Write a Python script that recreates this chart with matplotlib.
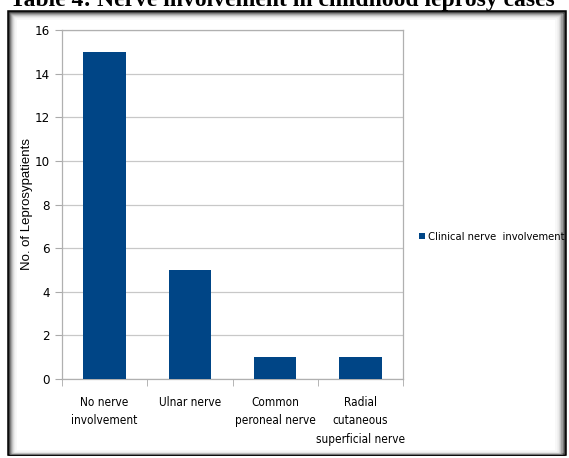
import matplotlib
matplotlib.use("Agg")
import matplotlib.pyplot as plt
from matplotlib.patches import Rectangle
from matplotlib.font_manager import FontProperties

categories = ["No nerve\ninvolvement", "Ulnar nerve", "Common\nperoneal nerve", "Radial\ncutaneous\nsuperficial nerve"]
values = [15, 5, 1, 1]
series_name = "Clinical nerve  involvement"
y_label = "No. of Leprosypatients"
title = "Table 4: Nerve involvement in childhood leprosy cases"
yticks = [0, 2, 4, 6, 8, 10, 12, 14, 16]

def cond(size):
    return FontProperties(family="DejaVu Sans", stretch="condensed", size=size)

W, H = 569, 458
fig = plt.figure(figsize=(W/100, H/100), dpi=100)
fig.patch.set_facecolor("white")

def fx(x): return x / W
def fy(y): return 1 - y / H

# frame with bevel shadow
shades = [0.0, 0.0, 0.3, 0.5, 0.65, 0.78, 0.87, 0.93, 0.97]
for i, g in enumerate(shades):
    x0, y0 = 8 + i, 11 + i
    x1, y1 = 566 - i * 1.2, 455 - i * 0.5
    fig.patches.append(Rectangle((fx(x0), fy(y1)), fx(x1 - x0), (y1 - y0) / H,
                                 transform=fig.transFigure, fill=False,
                                 edgecolor=(g, g, g), linewidth=1.1, zorder=0))

fig.text(fx(282), fy(6), title, ha="center", va="baseline", fontsize=17,
         fontweight="bold", family="Liberation Serif")

ax = fig.add_axes([fx(62), fy(379), fx(403 - 62), (379 - 30) / H])
x = list(range(len(categories)))
bars = ax.bar(x, values, width=0.5, color="#004586", zorder=3, label=series_name)
ax.set_xlim(-0.5, len(categories) - 0.5)
ax.set_ylim(0, 16)
ax.set_yticks(yticks)
ax.set_yticklabels([str(v) for v in yticks], fontproperties=cond(9.5))
ax.yaxis.grid(True, color="#c8c8c8", linewidth=0.9, zorder=0)
ax.set_xticks(x)
ax.set_xticklabels(categories, fontproperties=cond(8.5), linespacing=1.55)
ax.tick_params(axis="x", length=0, pad=12)
ax.set_xticks([i + 0.5 for i in range(-1, len(categories))], minor=True)
ax.tick_params(axis="x", which="minor", length=5, color="#aaaaaa")
ax.tick_params(axis="y", length=5, color="#aaaaaa", pad=4)
for s in ax.spines.values():
    s.set_color("#b0b0b0")
    s.set_linewidth(0.9)

fig.text(fx(27), fy(204), y_label, rotation=90, ha="center", va="center",
         fontsize=9.5, family="Liberation Sans")

leg = fig.legend(handles=[bars], labels=[series_name], loc="center left",
                 bbox_to_anchor=(fx(419), fy(237)), frameon=False,
                 prop=cond(8), handlelength=0.55,
                 handleheight=0.55, handletextpad=0.3, borderaxespad=0, borderpad=0)

fig.savefig("out.png", dpi=100)
